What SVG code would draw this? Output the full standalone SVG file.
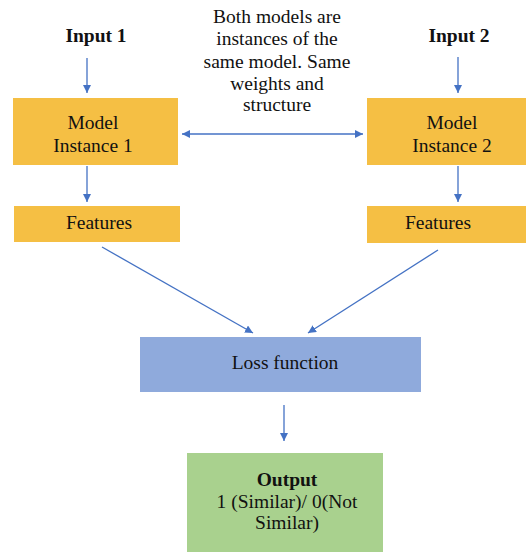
<svg xmlns="http://www.w3.org/2000/svg" width="526" height="552" viewBox="0 0 526 552">
<style>
text{font-family:"Liberation Serif",serif;font-size:19.5px;fill:#111;text-anchor:middle}
.b{font-weight:bold}
.c{stroke:#4472C4;stroke-width:1.3;fill:none}
.o{fill:#F5BF44}
</style>
<defs>
<marker id="ah" viewBox="0 0 10 10" refX="10" refY="5" markerWidth="8" markerHeight="8" markerUnits="userSpaceOnUse" orient="auto-start-reverse"><path d="M0,0L10,5L0,10z" fill="#4472C4"/></marker>
</defs>
<rect width="526" height="552" fill="#fff"/>
<g id="note"><text x="277" y="23">Both models are</text><text x="277" y="45">instances of the</text><text x="277" y="68">same model. Same</text><text x="277" y="90">weights and</text><text x="277" y="111">structure</text></g>
<g id="input1"><text class="b" x="96" y="42">Input 1</text></g>
<g id="input2"><text class="b" x="459" y="42">Input 2</text></g>
<g id="model1"><rect class="o" x="13" y="98" width="165" height="67"/><text x="93" y="129">Model</text><text x="93" y="152">Instance 1</text></g>
<g id="model2"><rect class="o" x="367" y="98" width="159" height="67"/><text x="452" y="129">Model</text><text x="452" y="152">Instance 2</text></g>
<g id="features1"><rect class="o" x="14" y="206" width="166" height="36"/><text x="99" y="229">Features</text></g>
<g id="features2"><rect class="o" x="367" y="206" width="159" height="37"/><text x="438" y="229">Features</text></g>
<g id="loss"><rect fill="#8FAADC" x="140" y="337" width="281" height="55"/><text x="285" y="369">Loss function</text></g>
<g id="output"><rect fill="#A9D18E" x="187" y="453" width="196" height="99"/><text class="b" x="287" y="486">Output</text><text x="287" y="508">1 (Similar)/ 0(Not</text><text x="287" y="529">Similar)</text></g>
<g id="connectors">
<line class="c" x1="87" y1="58" x2="87" y2="93" marker-end="url(#ah)"/>
<line class="c" x1="458" y1="57" x2="458" y2="93" marker-end="url(#ah)"/>
<line class="c" x1="87" y1="166" x2="87" y2="202" marker-end="url(#ah)"/>
<line class="c" x1="458" y1="166" x2="458" y2="202" marker-end="url(#ah)"/>
<line class="c" x1="182" y1="134" x2="363" y2="134" marker-start="url(#ah)" marker-end="url(#ah)"/>
<line class="c" x1="102" y1="247" x2="253" y2="333" marker-end="url(#ah)"/>
<line class="c" x1="438" y1="250" x2="308" y2="333" marker-end="url(#ah)"/>
<line class="c" x1="284" y1="405" x2="284" y2="441" marker-end="url(#ah)"/>
</g>
</svg>
